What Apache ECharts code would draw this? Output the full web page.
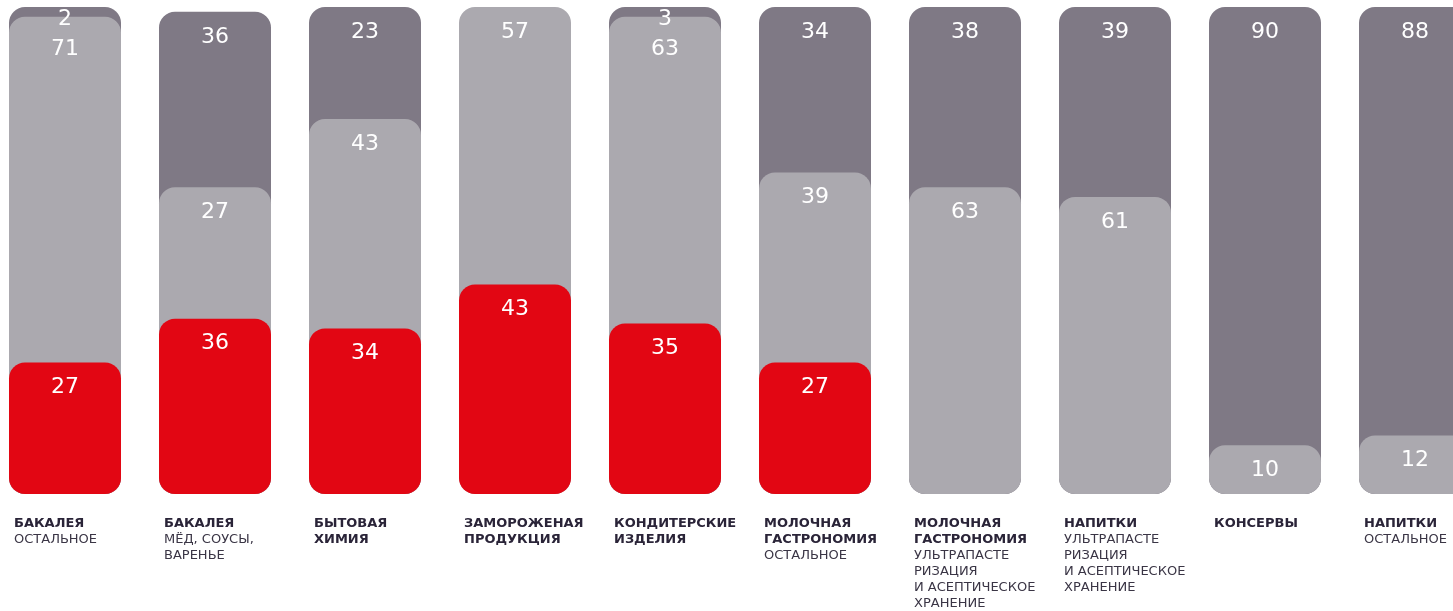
<!DOCTYPE html>
<html>
<head>
<meta charset="utf-8">
<script src="https://cdn.jsdelivr.net/npm/echarts@6/dist/echarts.min.js"></script>
<style>
  html, body { margin: 0; padding: 0; background: #fff; }
  #chart { width: 1453px; height: 611px; }
</style>
</head>
<body>
<div id="chart"></div>
<script>
// категории: заголовок (жирный) и подзаголовок
const titles = ["БАКАЛЕЯ", "БАКАЛЕЯ", "БЫТОВАЯ\nХИМИЯ", "ЗАМОРОЖЕНАЯ\nПРОДУКЦИЯ", "КОНДИТЕРСКИЕ\nИЗДЕЛИЯ",
  "МОЛОЧНАЯ\nГАСТРОНОМИЯ", "МОЛОЧНАЯ\nГАСТРОНОМИЯ", "НАПИТКИ", "КОНСЕРВЫ", "НАПИТКИ"];
const subtitles = ["ОСТАЛЬНОЕ", "МЁД, СОУСЫ,\nВАРЕНЬЕ", "", "", "",
  "ОСТАЛЬНОЕ", "УЛЬТРАПАСТЕ\nРИЗАЦИЯ\nИ АСЕПТИЧЕСКОЕ\nХРАНЕНИЕ", "УЛЬТРАПАСТЕ\nРИЗАЦИЯ\nИ АСЕПТИЧЕСКОЕ\nХРАНЕНИЕ", "", "ОСТАЛЬНОЕ"];

// значения сегментов сверху вниз
const darkVals = [2, 36, 23, null, 3, 34, 38, 39, 90, 88];
const grayVals = [71, 27, 43, 57, 63, 39, 63, 61, 10, 12];
const redVals = [27, 36, 34, 43, 35, 27, null, null, null, null];

const colors = { dark: "#7f7985", gray: "#aba9af", red: "#e20613" };

let chart = echarts.init(document.getElementById("chart"));

// бары рисуются друг поверх друга от нуля, поэтому нужны накопленные суммы
const redTop = redVals.map(v => v || 0);
const grayTop = grayVals.map((v, i) => v == null ? null : v + redTop[i]);
const darkTop = darkVals.map((v, i) => v == null ? null : v + (grayTop[i] || 0));

const categories = titles.map((t, i) => {
  let s = t.split("\n").map(l => "{b|" + l + "}").join("\n");
  if (subtitles[i]) s += "\n" + subtitles[i].split("\n").map(l => "{r|" + l + "}").join("\n");
  return s;
});

// маленький верхний сегмент — подпись прижимаем вверх, следующую сдвигаем вниз
function items(data, above) {
  return data.map((v, i) => {
    if (v == null) return null;
    let it = { value: v };
    if (above && above[i] != null && above[i] < 5) it.label = { distance: 22 };
    return it;
  });
}

function seg(name, data, own, above, color) {
  return {
    name: name,
    type: "bar",
    data: items(data, above),
    barWidth: 112,
    barGap: "-100%",
    itemStyle: { color: color, borderRadius: 16 },
    label: {
      show: true,
      position: "insideTop",
      distance: 14,
      color: "#fff",
      fontSize: 22,
      fontFamily: "DejaVu Sans",
      formatter: p => own[p.dataIndex]
    },
    emphasis: { disabled: true }
  };
}

let darkSeries = seg("dark", darkTop, darkVals, null, colors.dark);
darkSeries.data = darkSeries.data.map((it, i) => {
  if (it && darkVals[i] < 5) it.label = { distance: 1 };
  return it;
});

let option = {
  animation: false,
  grid: { left: -10, top: 7, width: 1500, bottom: 117, outerBoundsMode: "none", containLabel: false },
  xAxis: {
    type: "category",
    data: categories,
    axisLine: { show: false },
    axisTick: { show: false },
    axisLabel: {
      interval: 0,
      margin: 22,
      width: 102,
      overflow: "none",
      align: "center",
      verticalAlign: "top",
      formatter: v => v,
      rich: {
        b: { fontFamily: "DejaVu Sans", fontWeight: "bold", fontSize: 13, lineHeight: 16, color: "#2a2438", align: "left" },
        r: { fontFamily: "DejaVu Sans", fontSize: 13, lineHeight: 16, color: "#3a3545", align: "left" }
      }
    }
  },
  yAxis: { type: "value", min: 0, max: 100, show: false },
  series: [
    darkSeries,
    seg("gray", grayTop, grayVals, darkVals, colors.gray),
    seg("red", redVals, redVals, null, colors.red)
  ]
};
option && chart.setOption(option);
</script>
</body>
</html>
